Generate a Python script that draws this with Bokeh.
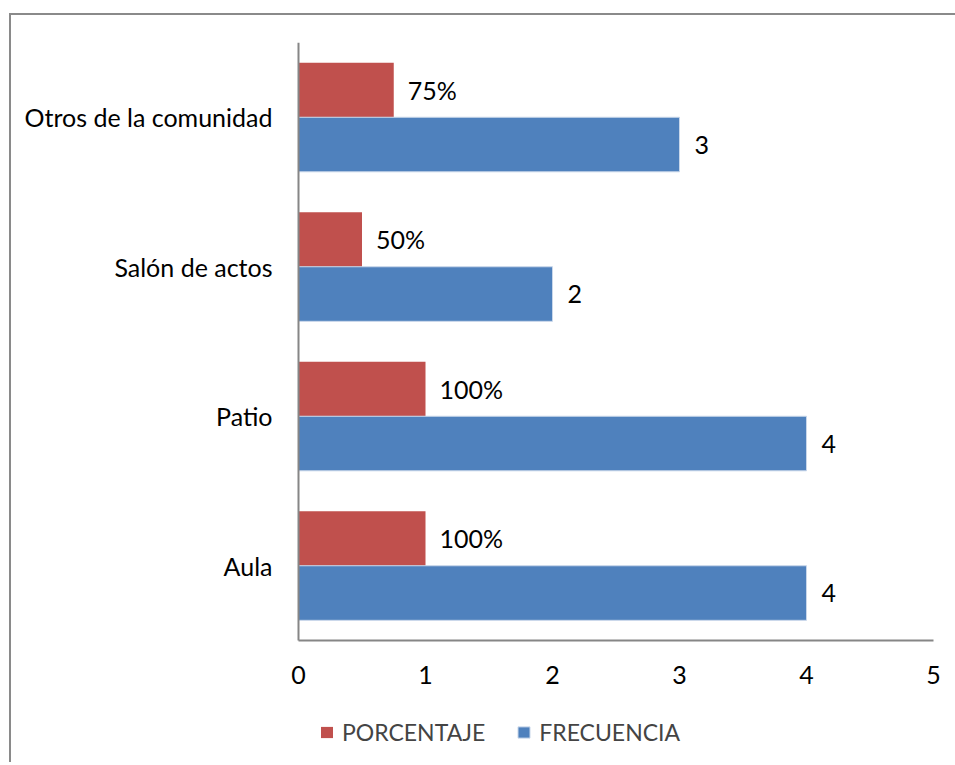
from bokeh.plotting import figure
from bokeh.models import (ColumnDataSource, Range1d, Legend, LegendItem, FixedTicker,
                          LinearAxis)
from bokeh.transform import dodge
from bokeh.core.properties import value
from bokeh.embed import file_html
from bokeh.resources import INLINE

categories = ["Aula", "Patio", "Salón de actos", "Otros de la comunidad"]
frecuencia = [4, 4, 2, 3]
porcentaje = [1.0, 1.0, 0.5, 0.75]
x_ticks = [0, 1, 2, 3, 4, 5]

RED = "#C0504D"
BLUE = "#4F81BD"
AXIS = "#868686"
FONT = "Lato"
FS = "25px"

ypos = [i + 0.5 for i in range(len(categories))]
src = ColumnDataSource(dict(
    y=ypos,
    frec=frecuencia,
    pct=porcentaje,
    frec_lbl=[str(v) for v in frecuencia],
    pct_lbl=[f"{round(v * 100)}%" for v in porcentaje],
))

# frame is a bit wider/taller than the value area so tick labels and legend fit inside it
x_px = 127.0
unit_px = 598 / len(categories)
p = figure(frame_width=680, frame_height=720, output_backend="svg", toolbar_location=None,
           x_range=Range1d(-18 / x_px, x_ticks[-1] + 27 / x_px),
           y_range=Range1d(-122 / unit_px, len(categories)),
           min_border_left=269, min_border_right=10, min_border_top=27,
           min_border_bottom=0)
p.styles = {"border-left": "2px solid #8a8a8a", "border-top": "2px solid #8a8a8a",
            "margin-left": "9px", "margin-top": "13px"}
p.outline_line_color = None
p.xgrid.grid_line_color = None
p.ygrid.grid_line_color = None
p.background_fill_color = "white"
p.border_fill_color = "white"

bh = 0.365
r_pct = p.hbar(y=dodge("y", bh / 2), right="pct", left=0, height=bh,
               source=src, fill_color=RED, line_color=None)
r_frec = p.hbar(y=dodge("y", -bh / 2), right="frec", left=0, height=bh,
                source=src, fill_color=BLUE, line_color="#c9d7ea", line_width=1)

p.text(x="pct", y=dodge("y", bh / 2), text="pct_lbl", source=src,
       x_offset=14, text_baseline="middle", text_align="left",
       text_font=value(FONT), text_font_size=FS, text_color="black")
p.text(x="frec", y=dodge("y", -bh / 2), text="frec_lbl", source=src,
       x_offset=15, text_baseline="middle", text_align="left",
       text_font=value(FONT), text_font_size=FS, text_color="black")

for ax in (p.xaxis[0], p.yaxis[0]):
    ax.major_tick_line_color = None
    ax.minor_tick_line_color = None
    ax.major_tick_out = 0
    ax.major_tick_in = 0
    ax.minor_tick_out = 0
    ax.major_label_text_font = FONT
    ax.major_label_text_font_size = FS
    ax.major_label_text_color = "black"

# horizontal value axis, drawn at y = 0
p.xaxis.ticker = FixedTicker(ticks=x_ticks, minor_ticks=[])
p.xaxis.fixed_location = 0
p.xaxis.bounds = (x_ticks[0], x_ticks[-1])
p.xaxis.axis_line_color = AXIS
p.xaxis.axis_line_width = 2
p.xaxis.major_label_standoff = 25

# category labels
p.yaxis.ticker = FixedTicker(ticks=ypos, minor_ticks=[])
p.yaxis.major_label_overrides = {y: c for y, c in zip(ypos, categories)}
p.yaxis.axis_line_color = None
p.yaxis.major_label_standoff = 8

# category axis line, drawn at x = 0
cat_line = LinearAxis(fixed_location=0, bounds=(0, len(categories)),
                      ticker=FixedTicker(ticks=[], minor_ticks=[]),
                      axis_line_color=AXIS, axis_line_width=2,
                      major_tick_line_color=None, minor_tick_line_color=None,
                      major_tick_out=0, minor_tick_out=0,
                      major_label_text_color=None)
p.add_layout(cat_line, "left")

legend = Legend(items=[LegendItem(label="PORCENTAJE", renderers=[r_pct]),
                       LegendItem(label="FRECUENCIA", renderers=[r_frec])],
                orientation="horizontal", location=(39, 15),
                label_text_font=FONT, label_text_font_size="23px", label_height=30,
                glyph_width=15, glyph_height=14, label_standoff=8, spacing=31,
                padding=0, margin=0, border_line_color=None,
                background_fill_alpha=0)
p.add_layout(legend, "center")

open("out.html", "w").write(file_html(p, INLINE))
